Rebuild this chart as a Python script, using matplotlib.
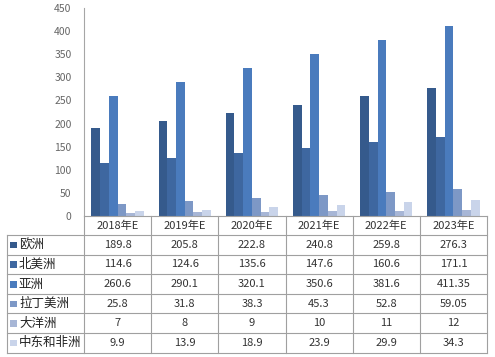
import matplotlib
matplotlib.use("Agg")
import matplotlib.pyplot as plt
from matplotlib.patches import Rectangle
import numpy as np

plt.rcParams['font.family'] = ['Noto Sans CJK SC', 'DejaVu Sans']

years = ["2018年E", "2019年E", "2020年E", "2021年E", "2022年E", "2023年E"]
regions = ["欧洲", "北美洲", "亚洲", "拉丁美洲", "大洋洲", "中东和非洲"]
europe = [189.8, 205.8, 222.8, 240.8, 259.8, 276.3]
north_america = [114.6, 124.6, 135.6, 147.6, 160.6, 171.1]
asia = [260.6, 290.1, 320.1, 350.6, 381.6, 411.35]
latin_america = [25.8, 31.8, 38.3, 45.3, 52.8, 59.05]
oceania = [7, 8, 9, 10, 11, 12]
mena = [9.9, 13.9, 18.9, 23.9, 29.9, 34.3]
labels_text = [
    ["189.8", "205.8", "222.8", "240.8", "259.8", "276.3"],
    ["114.6", "124.6", "135.6", "147.6", "160.6", "171.1"],
    ["260.6", "290.1", "320.1", "350.6", "381.6", "411.35"],
    ["25.8", "31.8", "38.3", "45.3", "52.8", "59.05"],
    ["7", "8", "9", "10", "11", "12"],
    ["9.9", "13.9", "18.9", "23.9", "29.9", "34.3"],
]
series = [europe, north_america, asia, latin_america, oceania, mena]
colors = ["#355a8c", "#3e67a0", "#4a7bbd", "#7d98c6", "#a7b6d6", "#c9d4ea"]
yticks = [0, 50, 100, 150, 200, 250, 300, 350, 400, 450]

W, H = 495, 357
fig = plt.figure(figsize=(W / 100, H / 100), dpi=100)
fig.patch.set_facecolor("white")

def fx(px):
    return px / W

def fy(py):
    return 1 - py / H

x_left, x_right = 84, 487
y_top, y_zero = 8, 216
ax = fig.add_axes([fx(x_left), fy(y_zero), fx(x_right - x_left), (y_zero - y_top) / H])
ax.set_xlim(-0.5, 5.5)
ax.set_ylim(0, 450)
x = np.arange(len(years))
bw = 0.13
n = len(series)
for i, (vals, c) in enumerate(zip(series, colors)):
    ax.bar(x + (i - (n - 1) / 2) * bw, vals, width=bw, color=c, linewidth=0)
for s in ["top", "right", "bottom"]:
    ax.spines[s].set_visible(False)
ax.spines["left"].set_color("#a6a6a6")
ax.spines["left"].set_linewidth(0.8)
ax.set_xticks([])
ax.set_yticks(yticks)
ax.set_yticklabels([str(t) for t in yticks], fontsize=7.5, color="#666666")
ax.tick_params(axis="y", length=0, pad=9)

# table
unit = (x_right - x_left) / 6.0
t_left_px = 7
tab_top, row_h = 216, 19.6
tab_bottom = 235 + 6 * row_h
tax = fig.add_axes([fx(t_left_px), fy(tab_bottom), fx(x_right - t_left_px), (tab_bottom - tab_top) / H])
xmin_t = -0.5 - (x_left - t_left_px) / unit
tax.set_xlim(xmin_t, 5.5)
tax.set_ylim(tab_bottom, tab_top)
tax.axis("off")
lc = "#a0a0a0"
lw = 0.8
# horizontal lines
tax.plot([-0.5, 5.5], [tab_top, tab_top], color=lc, lw=lw, clip_on=False)
row_lines = [235 + k * row_h for k in range(7)]
for yy in row_lines:
    tax.plot([xmin_t, 5.5], [yy, yy], color=lc, lw=lw, clip_on=False)
# vertical lines
tax.plot([xmin_t, xmin_t], [235, tab_bottom], color=lc, lw=lw, clip_on=False)
for k in range(7):
    xx = -0.5 + k
    tax.plot([xx, xx], [tab_top, tab_bottom], color=lc, lw=lw, clip_on=False)
# header
for i, yr in enumerate(years):
    tax.text(i, (tab_top + 235) / 2, yr, ha="center", va="center", fontsize=8, color="#333333")
# rows
for r, (name, c) in enumerate(zip(regions, colors)):
    yc = 235 + (r + 0.5) * row_h
    tax.add_patch(Rectangle((xmin_t + 3.5 / unit, yc - 3), 6.5 / unit, 6.5, color=c, lw=0))
    tax.text(xmin_t + 12 / unit, yc, name, ha="left", va="center", fontsize=9, color="#222222")
    for i in range(len(years)):
        tax.text(i, yc, labels_text[r][i], ha="center", va="center", fontsize=8, color="#333333")

fig.savefig("out.png", dpi=100)
